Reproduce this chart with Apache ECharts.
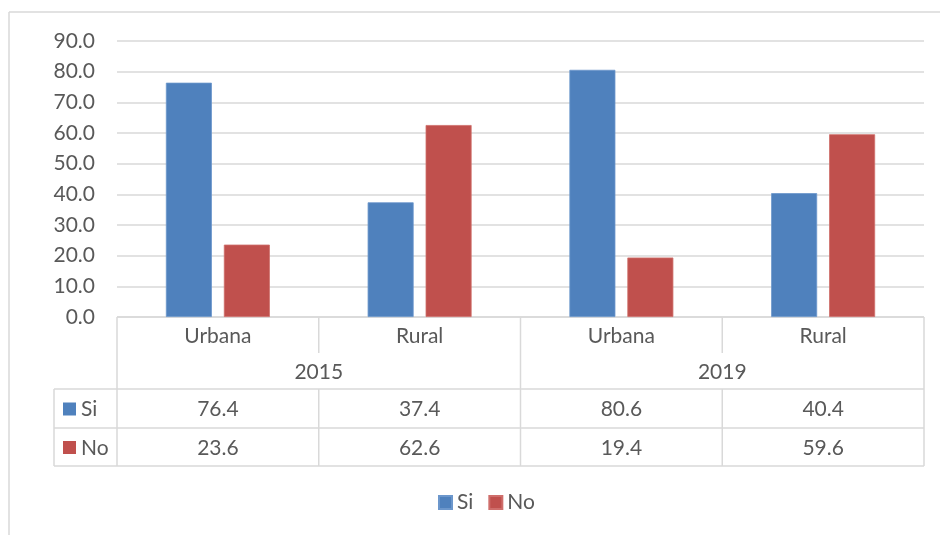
<!DOCTYPE html>
<html><head><meta charset="utf-8">
<script src="https://cdn.jsdelivr.net/npm/echarts@6/dist/echarts.min.js"></script>
<style>html,body{margin:0;padding:0;background:#fff}#c{width:940px;height:535px}</style>
</head><body><div id="c"></div>
<script>
const categories = ['Urbana', 'Rural', 'Urbana', 'Rural'];
const years = ['2015', '2019'];
const seriesNames = ['Si', 'No'];
const siValues = [76.4, 37.4, 80.6, 40.4];
const noValues = [23.6, 62.6, 19.4, 59.6];
const yTicks = [0, 10, 20, 30, 40, 50, 60, 70, 80, 90];

const colors = ['#4F81BD', '#C0504D'];
const FONT = 'Lato, "Open Sans", sans-serif';
const FS = 21;
const TXT = '#595959';
const LINE = '#D9D9D9';

const chart = echarts.init(document.getElementById('c'));
const gl = 117, gr = 924, gt = 41, gb = 317;
const cw = (gr - gl) / categories.length;
const rows = [317, 353, 389, 428, 466];
const tableLeft = 54;

const g = [];
function line(x1, y1, x2, y2) {
  g.push({type: 'line', shape: {x1, y1, x2, y2}, style: {stroke: LINE, lineWidth: 1.5}, silent: true});
}
function text(x, y, t, align) {
  g.push({type: 'text', x, y, style: {text: t, fill: TXT, font: FS + 'px ' + FONT, align: align || 'center', verticalAlign: 'middle'}, silent: true});
}
// outer border
line(9, 12, 940, 12);
line(9, 12, 9, 535);
// horizontal table lines
line(gl, rows[0], gr, rows[0]);
for (let i = 2; i < rows.length; i++) line(tableLeft, rows[i], gr, rows[i]);
// vertical lines
line(tableLeft, rows[2], tableLeft, rows[4]);
for (let i = 0; i <= categories.length; i++) {
  const x = gl + i * cw;
  if (i % 2 === 1) {
    line(x, rows[0], x, rows[1]);
    line(x, rows[2], x, rows[4]);
  } else {
    line(x, rows[0], x, rows[4]);
  }
}
// category texts
categories.forEach((c, i) => text(gl + (i + 0.5) * cw, (rows[0] + rows[1]) / 2 + 1, c));
years.forEach((y, i) => text(gl + (2 * i + 1) * cw, (rows[1] + rows[2]) / 2 + 1, y));
const vals = [siValues, noValues];
vals.forEach((arr, r) => {
  const yc = (rows[2 + r] + rows[3 + r]) / 2 + 1;
  arr.forEach((v, i) => text(gl + (i + 0.5) * cw, yc, v.toFixed(1)));
  g.push({type: 'rect', shape: {x: 63, y: yc - 7, width: 13, height: 13}, style: {fill: colors[r]}, silent: true});
  text(81, yc, seriesNames[r], 'left');
});

chart.setOption({
  animation: false,
  color: colors,
  grid: {left: gl, right: 940 - gr, top: gt, bottom: 535 - gb, containLabel: false},
  legend: {
    data: seriesNames, top: 492, left: 438, icon: 'rect', itemWidth: 13, itemHeight: 13, itemGap: 15,
    padding: 0,
    textStyle: {color: TXT, fontSize: FS, fontFamily: FONT}
  },
  xAxis: {
    type: 'category', data: categories,
    axisLine: {show: false}, axisTick: {show: false}, axisLabel: {show: false}
  },
  yAxis: {
    type: 'value', min: 0, max: 90, interval: 10,
    axisLine: {show: false}, axisTick: {show: false},
    axisLabel: {color: TXT, fontSize: FS, fontFamily: FONT, margin: 22, formatter: v => v.toFixed(1)},
    splitLine: {lineStyle: {color: LINE, width: 1.5}}
  },
  series: [
    {name: seriesNames[0], type: 'bar', data: siValues, barWidth: 46, barGap: '26%',
     itemStyle: {color: colors[0], borderColor: '#6C97CC', borderWidth: 0.8}},
    {name: seriesNames[1], type: 'bar', data: noValues, barWidth: 46, barGap: '26%',
     itemStyle: {color: colors[1], borderColor: '#CF6E6B', borderWidth: 0.8}}
  ],
  graphic: g
});
</script></body></html>
